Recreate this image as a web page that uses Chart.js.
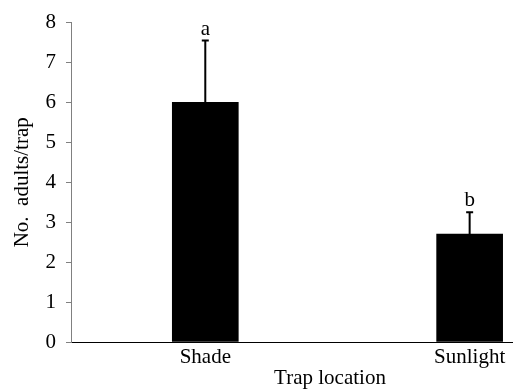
<!DOCTYPE html>
<html>
<head>
<meta charset="utf-8">
<script src="https://cdn.jsdelivr.net/npm/chart.js@4/dist/chart.umd.min.js"></script>
<style>
  html, body { margin: 0; padding: 0; background: #ffffff; overflow: hidden; }
  #wrap { width: 513px; height: 389px; position: relative; }
</style>
</head>
<body>
<div id="wrap"><canvas id="chart"></canvas></div>
<script>
// Trap catches by location
const categories = ['Shade', 'Sunlight'];
const meanAdults = [6.0, 2.7];
const errAdults = [1.55, 0.55];
const sigLetters = ['a', 'b'];
const yTickValues = [0, 1, 2, 3, 4, 5, 6, 7, 8];
const xAxisTitle = 'Trap location';
const yAxisTitle = 'No.  adults/trap';

const FONT = '"Liberation Serif", "Times New Roman", serif';
const FONT_SIZE = 21;

// Error bars with significance letters above them
const errorBarPlugin = {
  id: 'errorBars',
  afterDatasetsDraw(chart) {
    const ctx = chart.ctx;
    const xs = chart.scales.x, ys = chart.scales.y;
    ctx.save();
    ctx.strokeStyle = '#000000';
    ctx.fillStyle = '#000000';
    ctx.lineWidth = 2;
    ctx.font = FONT_SIZE + 'px ' + FONT;
    ctx.textAlign = 'center';
    ctx.textBaseline = 'alphabetic';
    meanAdults.forEach((m, i) => {
      const x = xs.getPixelForValue(i + 1);
      const yTop = ys.getPixelForValue(m + errAdults[i]);
      const yMean = ys.getPixelForValue(m);
      ctx.beginPath();
      ctx.moveTo(x, yMean);
      ctx.lineTo(x, yTop);
      ctx.moveTo(x - 3.5, yTop);
      ctx.lineTo(x + 3.5, yTop);
      ctx.stroke();
      ctx.fillText(sigLetters[i], x, yTop - 6);
    });
    ctx.restore();
  }
};

// Horizontal axis title, set below the category labels
const xTitlePlugin = {
  id: 'xTitle',
  afterDraw(chart) {
    const ctx = chart.ctx;
    const area = chart.chartArea;
    ctx.save();
    ctx.fillStyle = '#000000';
    ctx.font = FONT_SIZE + 'px ' + FONT;
    ctx.textAlign = 'center';
    ctx.textBaseline = 'alphabetic';
    ctx.fillText(xAxisTitle, area.left + 259, chart.height - 5);
    ctx.restore();
  }
};

new Chart(document.getElementById('chart'), {
  type: 'bar',
  data: {
    datasets: [{
      data: meanAdults.map((v, i) => ({ x: i + 1, y: v })),
      backgroundColor: '#000000',
      borderWidth: 0,
      barThickness: 66
    }]
  },
  options: {
    responsive: true,
    maintainAspectRatio: false,
    animation: false,
    devicePixelRatio: 1,
    layout: { padding: { top: 20, right: 0, bottom: 0, left: 0 } },
    plugins: { legend: { display: false }, tooltip: { enabled: false } },
    scales: {
      x: {
        type: 'linear',
        offset: false,
        min: 0.492,
        max: 2.164,
        afterBuildTicks(scale) {
          scale.ticks = categories.map((c, i) => ({ value: i + 1 }));
        },
        afterFit(scale) { scale.height = 47; },
        ticks: {
          color: '#000000',
          font: { family: FONT, size: FONT_SIZE },
          padding: 3,
          maxRotation: 0,
          autoSkip: false,
          callback: (v) => categories[v - 1]
        },
        grid: { display: true, offset: false, drawOnChartArea: false, drawTicks: false },
        border: { display: true, color: '#000000', width: 1 }
      },
      y: {
        min: 0,
        max: 8,
        afterBuildTicks(scale) {
          scale.ticks = yTickValues.map(v => ({ value: v }));
        },
        afterFit(scale) { scale.width = 71; },
        ticks: {
          color: '#000000',
          font: { family: FONT, size: FONT_SIZE },
          padding: 10
        },
        grid: { display: true, drawOnChartArea: false, drawTicks: true, tickLength: 5, color: '#808080' },
        border: { display: true, color: '#808080', width: 1 },
        title: {
          display: true,
          text: yAxisTitle,
          color: '#000000',
          font: { family: FONT, size: FONT_SIZE },
          padding: { top: 10, bottom: 0 }
        }
      }
    }
  },
  plugins: [errorBarPlugin, xTitlePlugin]
});
</script>
</body>
</html>
